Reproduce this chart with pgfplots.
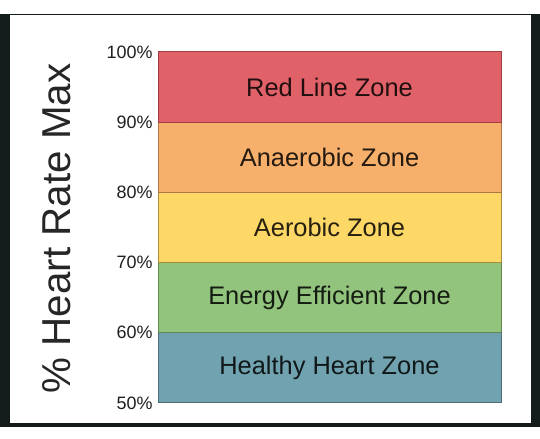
\documentclass[border=0pt]{standalone}
\usepackage{pgfplots}
\pgfplotsset{compat=1.18}
\usepackage{fontspec}
\setmainfont{Liberation Sans}

\definecolor{frame}{HTML}{141B1B}
\definecolor{cRed}{RGB}{224,98,104}
\definecolor{cRedD}{RGB}{160,62,64}
\definecolor{cOrange}{RGB}{246,176,108}
\definecolor{cOrangeD}{RGB}{176,120,70}
\definecolor{cYellow}{RGB}{253,216,102}
\definecolor{cYellowD}{RGB}{170,140,60}
\definecolor{cGreen}{RGB}{147,196,125}
\definecolor{cGreenD}{RGB}{95,135,80}
\definecolor{cBlue}{RGB}{112,163,175}
\definecolor{cBlueD}{RGB}{75,110,120}

\begin{document}
\begin{tikzpicture}[x=1bp,y=1bp]
\useasboundingbox (0,0) rectangle (540,439);
\fill[white] (0,0) rectangle (540,439);
\fill[frame] (0,12) rectangle (540,425);
\fill[white] (10,16) rectangle (531,423.5);
\node[rotate=90, font=\fontsize{40.5}{40.5}\selectfont, text=black!85] at (57,210.5) {\% Heart Rate Max};
\begin{axis}[
  at={(158bp,36bp)}, anchor=south west,
  width=343bp, height=351bp, scale only axis,
  xmin=0, xmax=1, ymin=50, ymax=100,
  xtick=\empty,
  ytick={50,60,70,80,90,100},
  yticklabels={50\%,60\%,70\%,80\%,90\%,100\%},
  yticklabel style={font=\fontsize{18}{18}\selectfont, text=black!88, xshift=-2bp},
  major tick length=0pt,
  axis line style={draw=none},
  clip=false,
]
\addplot[fill=cBlue, draw=cBlueD, line width=1bp] coordinates {(0,50) (1,50) (1,60) (0,60)} -- cycle;
\addplot[fill=cGreen, draw=cGreenD, line width=1bp] coordinates {(0,60) (1,60) (1,70) (0,70)} -- cycle;
\addplot[fill=cYellow, draw=cYellowD, line width=1bp] coordinates {(0,70) (1,70) (1,80) (0,80)} -- cycle;
\addplot[fill=cOrange, draw=cOrangeD, line width=1bp] coordinates {(0,80) (1,80) (1,90) (0,90)} -- cycle;
\addplot[fill=cRed, draw=cRedD, line width=1bp] coordinates {(0,90) (1,90) (1,100) (0,100)} -- cycle;
\tikzset{zone/.style={font=\fontsize{25.5}{25.5}\selectfont, text=black, text opacity=0.85}}
\node[zone] at (axis cs:0.5,55) {Healthy Heart Zone};
\node[zone] at (axis cs:0.5,65) {Energy Efficient Zone};
\node[zone] at (axis cs:0.5,75) {Aerobic Zone};
\node[zone] at (axis cs:0.5,85) {Anaerobic Zone};
\node[zone] at (axis cs:0.5,95) {Red Line Zone};
\end{axis}
\end{tikzpicture}
\end{document}
